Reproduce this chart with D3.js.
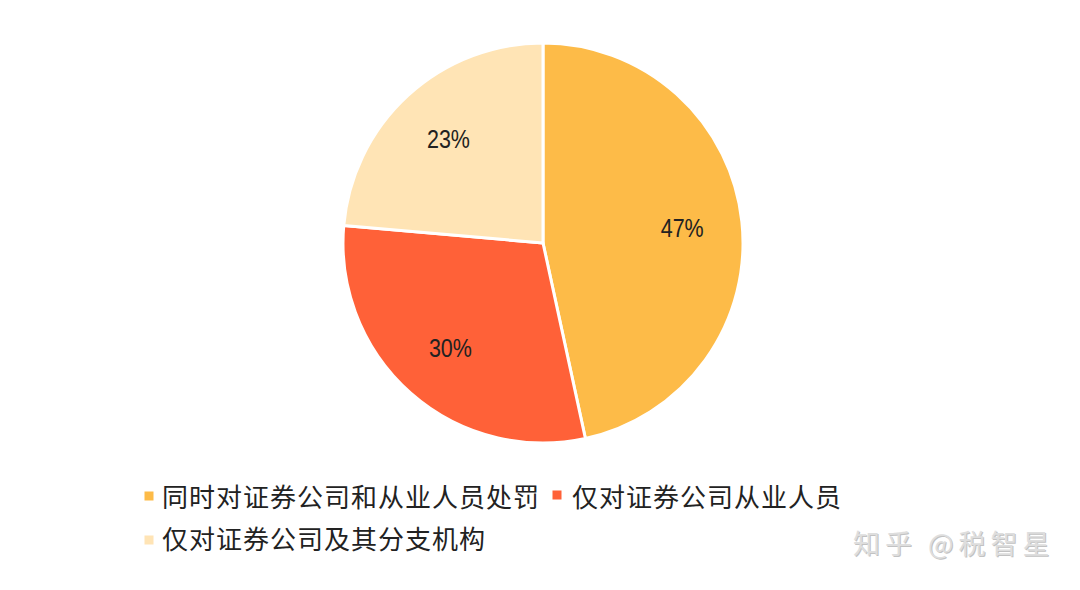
<!DOCTYPE html>
<html><head><meta charset="utf-8">
<script src="https://cdn.jsdelivr.net/npm/d3@7/dist/d3.min.js"></script>
<style>body{margin:0;background:#fff}svg{display:block}</style>
</head><body>
<svg id="c" width="1080" height="590"></svg>
<script>
const categories = ["同时对证券公司和从业人员处罚", "仅对证券公司从业人员", "仅对证券公司及其分支机构"];
const values = [46.6, 29.8, 23.6];
const labels = ["47%", "30%", "23%"];
const colors = ["#FDBB48", "#FF6138", "#FFE4B5"];

const svg = d3.select("#c");
const cx = 543, cy = 243, R = 200;
const pie = d3.pie().sort(null).value(d => d)(values);
const arc = d3.arc().innerRadius(0).outerRadius(R);
const labelArc = d3.arc().innerRadius(140).outerRadius(140);
const g = svg.append("g").attr("transform", `translate(${cx},${cy})`);
g.selectAll("path").data(pie).join("path")
  .attr("d", arc).attr("fill", (d, i) => colors[i])
  .attr("stroke", "#fff").attr("stroke-width", 3).attr("stroke-linejoin", "round");
g.selectAll("text").data(pie).join("text")
  .attr("transform", d => `translate(${labelArc.centroid(d)}) scale(0.86,1)`)
  .attr("text-anchor", "middle").attr("dominant-baseline", "central")
  .attr("font-family", "'Liberation Sans', Arial, sans-serif")
  .attr("font-size", 25).attr("fill", "#222")
  .text((d, i) => labels[i]);

// legend
const legPos = [[149, 496, 162], [557, 495, 572], [149, 540, 162]];
const lg = svg.append("g");
categories.forEach((c, i) => {
  const [x, y, tx] = legPos[i];
  lg.append("rect").attr("x", x - 4.5).attr("y", y - 4.5).attr("width", 9).attr("height", 9).attr("fill", colors[i]);
  lg.append("text").attr("x", tx).attr("y", i === 2 ? 537 : 495).attr("dominant-baseline", "central")
    .attr("font-family", "'Noto Sans CJK SC', sans-serif").attr("font-size", 26)
    .attr("letter-spacing", 1).attr("fill", "#222")
    .text(c);
});

// watermark
const wm = "知乎 @税智星";
[[1, 1, "#c2c2c2"], [0, 0, "#dedede"]].forEach(([dx, dy, col]) => {
  svg.append("text").attr("x", 853 + dx).attr("y", 542 + dy).attr("dominant-baseline", "central")
    .attr("font-family", "'Noto Sans CJK SC', sans-serif").attr("font-size", 27)
    .attr("letter-spacing", 5).attr("fill", col)
    .text(wm);
});
</script>
</body></html>
